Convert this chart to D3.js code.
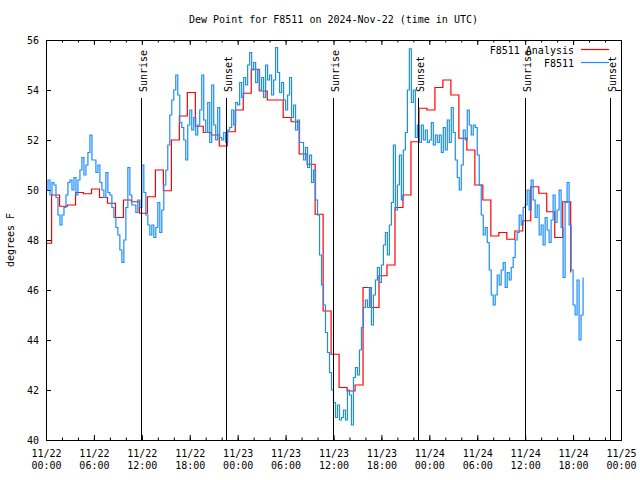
<!DOCTYPE html>
<html><head><meta charset="utf-8">
<script src="https://cdn.jsdelivr.net/npm/d3@7"></script>
<style>
body{margin:0;background:#fff;}
svg{display:block;}
text{font-family:"DejaVu Sans Mono","Liberation Mono",monospace;font-size:10px;fill:#000;}
</style></head>
<body>
<svg id="chart" width="640" height="480"></svg>
<script>
// ---- data ----
const titleText = "Dew Point for F8511 on 2024-Nov-22 (time in UTC)";
const yLabel = "degrees F";
const startTime = "2024-11-22T00:00:00Z";
const endTime = "2024-11-25T00:00:00Z";
const yTicks = [40, 42, 44, 46, 48, 50, 52, 54, 56];
// analysis: hourly values, each valid from (hour - 0.3)
const analysisOffsetHours = -0.3;
const analysisValues = [
  47.87, 49.8, 49.35, 49.4, 49.9, 49.85, 50.04, 49.7, 49.47, 48.9,
  49.6, 49.53, 49.07, 49.73, 50.8, 49.97, 52.0, 52.96, 53.9, 52.55,
  52.3, 52.2, 51.76, 52.33, 53.2, 53.87, 54.83, 53.96, 53.6, 53.6,
  52.9, 52.73, 51.44, 51.03, 49.03, 45.16, 43.43, 42.1, 41.96, 42.2,
  46.1, 45.3, 46.57, 47.0, 49.3, 49.8, 51.93, 53.27, 53.2, 54.1,
  54.4, 53.8, 52.07, 51.6, 50.2, 49.6, 48.16, 48.3, 48.03, 48.36,
  48.77, 50.13, 49.87, 49.13, 48.1, 49.53, 46.7
];
// observations every 15 minutes from start
const obsStepMinutes = 15;
const obsValues = [
  50.0, 50.4, 49.8, 50.3,  50.2, 49.7, 49.0, 48.6,  49.0, 49.3, 49.8, 50.3,
  50.4, 50.0, 50.5, 49.8,  50.4, 50.8, 51.3, 50.6,  51.0, 51.5, 52.2, 51.2,
  51.2, 50.7, 51.0, 50.3,  50.0, 49.7, 50.7, 49.9,  49.8, 49.3, 48.9, 48.5,
  48.2, 47.6, 47.1, 48.0,  49.3, 50.9, 49.8, 49.4,  49.4, 49.1, 49.6, 49.3,
  51.0, 49.9, 49.0, 48.6,  48.2, 48.6, 48.1, 48.5,  49.5, 48.3, 49.2, 50.2,
  50.8, 51.8, 53.0, 53.6,  54.0, 54.6, 53.8, 52.7,  52.5, 52.0, 51.2, 52.6,
  53.2, 52.4, 52.9, 52.2,  52.6, 53.2, 54.6, 52.8,  52.3, 53.5, 51.9, 54.2,
  52.6, 52.0, 53.3, 52.1,  52.0, 52.3, 51.9, 52.4,  52.5, 53.2, 52.6, 53.5,
  53.4, 54.3, 53.7, 54.5,  54.2, 55.0, 55.5, 54.8,  55.1, 54.3, 54.8, 54.0,
  54.5, 53.7, 55.0, 54.4,  54.6, 53.8, 54.4, 55.7,  54.7, 53.9, 54.3, 53.6,
  53.2, 53.8, 54.5, 52.9,  53.4, 52.4, 52.8, 51.9,  51.9, 51.2, 51.7, 50.9,
  51.4, 50.3, 50.8, 49.6,  49.0, 47.4, 46.2, 45.4,  44.3, 43.5, 42.7, 42.0,
  41.5, 40.9, 41.4, 40.8,  40.9, 41.2, 40.8, 42.0,  41.8, 40.6, 42.5, 42.9,
  42.6, 43.6, 44.5, 45.3,  45.6, 45.3, 46.1, 44.6,  45.8, 46.4, 46.9, 46.3,
  47.0, 47.8, 48.3, 47.4,  48.6, 49.5, 51.8, 49.2,  50.2, 51.4, 49.6, 51.6,
  52.3, 54.0, 55.65, 53.5, 54.0, 52.1, 52.6, 51.9,  52.6, 52.0, 52.4, 51.9,
  52.0, 52.7, 51.8, 52.2,  51.9, 52.2, 51.5, 52.5,  51.6, 52.8, 51.9, 53.3,
  52.3, 51.2, 50.5, 50.0,  51.0, 52.4, 52.0, 53.2,  52.6, 52.2, 52.6, 52.5,
  51.4, 50.2, 49.0, 48.2,  48.5, 47.9, 46.8, 45.8,  45.4, 45.8, 46.6, 46.2,
  46.8, 47.1, 46.1, 46.7,  46.4, 46.9, 47.3, 48.0,  48.3, 49.0, 48.6, 49.3,
  49.4, 50.0, 49.2, 50.4,  49.6, 48.9, 49.4, 48.2,  48.6, 47.8, 48.9, 48.4,
  47.9, 48.8, 49.8, 48.7,  49.2, 50.0, 48.5, 46.5,  49.5, 50.3, 48.6, 46.8,
  45.4, 45.0, 46.4, 44.0,  45.0, 46.5
];
const sunEvents = [
  {label: "Sunrise", time: "2024-11-22T11:56:00Z"},
  {label: "Sunset",  time: "2024-11-22T22:32:00Z"},
  {label: "Sunrise", time: "2024-11-23T11:59:00Z"},
  {label: "Sunset",  time: "2024-11-23T22:37:00Z"},
  {label: "Sunrise", time: "2024-11-24T12:01:00Z"},
  {label: "Sunset",  time: "2024-11-24T22:35:00Z"}
];
const seriesNames = ["F8511 Analysis", "F8511"];
const seriesColors = ["#ff0000", "#1a8cff"];

// ---- layout ----
const L = 46, R = 621, T = 40, B = 440;
const svg = d3.select("#chart");
const t0 = new Date(startTime), t1 = new Date(endTime);
const HOUR = 3600e3;
const x = d3.scaleUtc().domain([t0, t1]).range([L, R]);
const y = d3.scaleLinear().domain([40, 56]).range([B, T]);

const analysis = analysisValues.map((v, i) => ({t: new Date(+t0 + (i + analysisOffsetHours) * HOUR), v}));
const obs = obsValues.map((v, i) => ({t: new Date(+t0 + i * obsStepMinutes * 60e3), v}));

svg.append("defs").append("clipPath").attr("id", "clip")
  .append("rect").attr("x", L).attr("y", T).attr("width", R - L).attr("height", B - T);

// title
svg.append("text").attr("x", (L + R) / 2).attr("y", 23).attr("text-anchor", "middle").text(titleText);
// y label
svg.append("text").attr("transform", `translate(14,${(T + B) / 2}) rotate(-90)`)
  .attr("text-anchor", "middle").text(yLabel);

// axes
const majorX = d3.utcHour.every(6).range(t0, new Date(+t1 + 1));
const minorX = d3.utcHour.every(2).range(t0, new Date(+t1 + 1));
const fmtDate = d3.utcFormat("%m/%d"), fmtTime = d3.utcFormat("%H:%M");

function styleAxis(g) {
  g.select(".domain").remove();
  g.selectAll("line").attr("stroke", "#000");
  g.attr("font-family", null).attr("font-size", null);
}
svg.append("g").attr("transform", `translate(0,${B})`)
  .call(d3.axisBottom(x).tickValues(minorX).tickSize(-2.5).tickSizeOuter(0).tickFormat(""))
  .call(styleAxis);
const xAx = svg.append("g").attr("transform", `translate(0,${B})`)
  .call(d3.axisBottom(x).tickValues(majorX).tickSize(-5).tickSizeOuter(0).tickPadding(10).tickFormat(fmtDate))
  .call(styleAxis);
xAx.selectAll(".tick text").each(function(d) {
  d3.select(this).append("tspan").attr("x", 0).attr("dy", "1.2em").text(fmtTime(d));
});
svg.append("g").attr("transform", `translate(0,${T})`)
  .call(d3.axisTop(x).tickValues(minorX).tickSize(-2.5).tickSizeOuter(0).tickFormat(""))
  .call(styleAxis);
svg.append("g").attr("transform", `translate(0,${T})`)
  .call(d3.axisTop(x).tickValues(majorX).tickSize(-5).tickSizeOuter(0).tickFormat(""))
  .call(styleAxis);
svg.append("g").attr("transform", `translate(${L},0)`)
  .call(d3.axisLeft(y).tickValues(yTicks).tickSize(-5).tickSizeOuter(0).tickPadding(7).tickFormat(d3.format("d")))
  .call(styleAxis);
svg.append("g").attr("transform", `translate(${R},0)`)
  .call(d3.axisRight(y).tickValues(yTicks).tickSize(-5).tickSizeOuter(0).tickFormat(""))
  .call(styleAxis);

// data
const line = d3.line().x(d => x(d.t)).y(d => y(d.v)).curve(d3.curveStepAfter);
const plot = svg.append("g").attr("clip-path", "url(#clip)");
plot.append("path").datum(analysis).attr("d", line)
  .style("fill", "none").style("stroke", seriesColors[0]).style("stroke-width", "1.2px");
plot.append("path").datum(obs).attr("d", line)
  .style("fill", "none").style("stroke", seriesColors[1]).style("stroke-width", "1.2px");

// sunrise / sunset markers
const ev = svg.append("g");
sunEvents.forEach(e => {
  const xp = Math.round(x(new Date(e.time))) + 0.5;
  ev.append("line").attr("x1", xp).attr("x2", xp).attr("y1", 98).attr("y2", B)
    .attr("stroke", "#000").attr("stroke-width", 1);
  ev.append("text").attr("transform", `translate(${xp + 5},92) rotate(-90)`)
    .attr("text-anchor", "start").text(e.label);
});

// legend
const leg = svg.append("g");
seriesNames.forEach((n, i) => {
  const yy = 50 + i * 13;
  leg.append("text").attr("x", 574).attr("y", yy).attr("dy", "0.35em").attr("text-anchor", "end").text(n);
  leg.append("line").attr("x1", 581).attr("x2", 609).attr("y1", yy - 0.5).attr("y2", yy - 0.5)
    .style("stroke", seriesColors[i]).style("stroke-width", "1.2px");
});

// border
svg.append("rect").attr("x", L + 0.5).attr("y", T + 0.5).attr("width", R - L).attr("height", B - T)
  .attr("fill", "none").attr("stroke", "#000").attr("stroke-width", 1);
</script>
</body></html>
